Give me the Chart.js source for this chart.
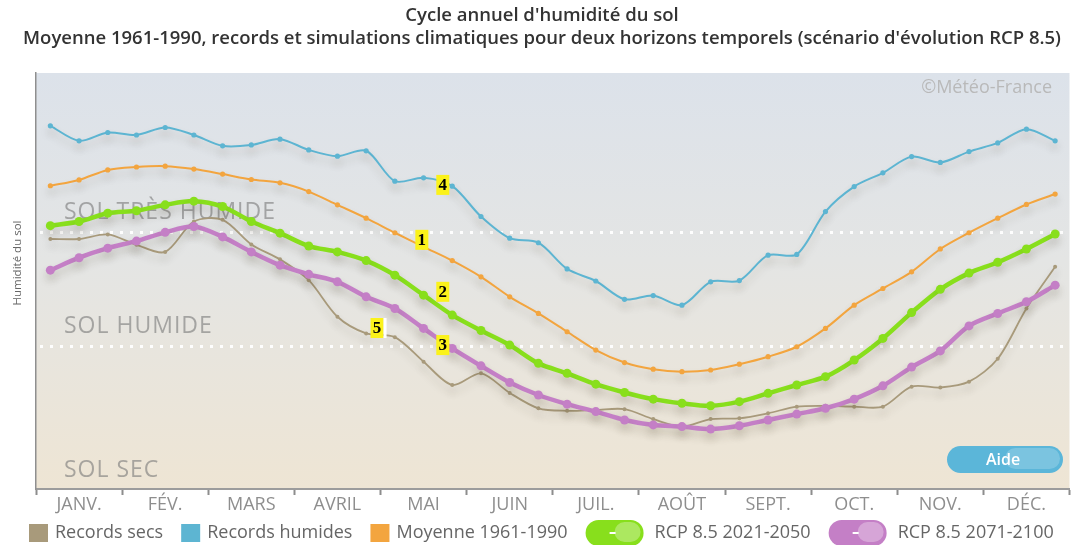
<!DOCTYPE html>
<html>
<head>
<meta charset="utf-8">
<script src="https://cdn.jsdelivr.net/npm/chart.js@4.4.1/dist/chart.umd.min.js"></script>
<style>
  html, body { margin: 0; padding: 0; background: #fff; overflow: hidden; }
  #wrap { width: 1074px; height: 545px; }
</style>
</head>
<body>
<div id="wrap"><canvas id="c" width="1074" height="545"></canvas></div>
<script>
// Months of the year (3 values per month, one per ten-day period)
const months = ['JANV.', 'FÉV.', 'MARS', 'AVRIL', 'MAI', 'JUIN', 'JUIL.', 'AOÛT', 'SEPT.', 'OCT.', 'NOV.', 'DÉC.'];

// Soil humidity index, 36 ten-day periods
const recordsSecs = [60.1, 60.1, 61.2, 58.7, 57.0, 64.3, 64.7, 58.8, 55.2, 50.2, 41.4, 37.4,
                     36.5, 30.6, 25.0, 27.8, 23.1, 19.4, 18.8, 19.0, 19.2, 16.8, 15.0, 16.8,
                     17.0, 18.2, 19.8, 20.0, 19.8, 19.8, 24.6, 24.4, 25.8, 31.3, 43.4, 53.4];
const recordsHumides = [87.3, 83.7, 85.7, 85.1, 86.9, 85.1, 82.5, 82.7, 84.1, 81.5, 80.0, 81.3,
                        74.0, 74.8, 72.8, 65.5, 60.3, 59.2, 52.9, 50.0, 45.6, 46.5, 44.2, 49.8,
                        50.1, 56.2, 56.4, 66.7, 72.7, 76.0, 79.9, 78.5, 81.1, 83.2, 86.5, 83.7];
const moyenne = [72.9, 74.3, 76.7, 77.4, 77.6, 76.9, 75.7, 74.4, 73.6, 71.5, 68.3, 65.1,
                 61.6, 58.2, 54.9, 51.0, 46.2, 42.2, 37.8, 33.4, 30.4, 28.8, 28.2, 28.6,
                 30.0, 31.8, 34.2, 38.6, 44.2, 48.2, 52.2, 57.7, 61.6, 65.1, 68.4, 70.9];
const rcp2021 = [63.3, 64.3, 66.3, 66.9, 68.3, 69.2, 67.9, 64.3, 61.5, 58.4, 57.0, 54.9,
                 51.4, 46.6, 41.8, 38.1, 34.6, 30.2, 27.8, 25.2, 23.2, 21.6, 20.6, 20.0,
                 21.0, 23.0, 25.0, 27.0, 31.0, 36.2, 42.4, 48.0, 51.9, 54.5, 57.7, 61.3];
const rcp2071 = [52.6, 55.6, 57.9, 59.6, 61.7, 63.1, 60.6, 57.0, 53.8, 51.6, 49.8, 46.2,
                 43.4, 38.6, 33.8, 29.6, 25.6, 22.6, 20.4, 18.6, 16.6, 15.4, 15.0, 14.4,
                 15.2, 16.6, 18.0, 19.4, 21.6, 24.8, 29.3, 33.2, 39.2, 42.2, 45.0, 49.0];

// Limits between soil states (very humid / humid / dry)
const thresholds = [61.8, 34.4];
const zoneNames = ['SOL TRÈS HUMIDE', 'SOL HUMIDE', 'SOL SEC'];

// Numbered call-outs (x in ten-day periods, y in index units)
const callouts = [
  { text: '4', x: 14.17, y: 73.1 },
  { text: '1', x: 13.44, y: 59.9 },
  { text: '2', x: 14.17, y: 47.4 },
  { text: '3', x: 14.17, y: 34.6 },
  { text: '5', x: 11.88, y: 38.7, edge: true }
];

const titleText = "Cycle annuel d'humidité du sol";
const subtitleText = "Moyenne 1961-1990, records et simulations climatiques pour deux horizons temporels (scénario d'évolution RCP 8.5)";

const toPoints = vals => vals.map((v, i) => ({ x: i + 0.5, y: v }));

const series = [
  { label: 'Records secs', data: recordsSecs, color: '#a89a7b', width: 1.8, radius: 2, swatch: 'square', order: 5 },
  { label: 'Records humides', data: recordsHumides, color: '#5db5d2', width: 2, radius: 2.6, swatch: 'square', order: 4 },
  { label: 'Moyenne 1961-1990', data: moyenne, color: '#f3a53f', width: 2, radius: 2.6, swatch: 'square', order: 3 },
  { label: 'RCP 8.5 2021-2050', data: rcp2021, color: '#88df1c', width: 4.5, radius: 4.5, swatch: 'pill', order: 2 },
  { label: 'RCP 8.5 2071-2100', data: rcp2071, color: '#c47fc6', width: 4.5, radius: 4.5, swatch: 'pill', order: 1 }
];

function roundRect(ctx, x, y, w, h, r) {
  ctx.beginPath();
  ctx.moveTo(x + r, y);
  ctx.lineTo(x + w - r, y);
  ctx.arc(x + w - r, y + r, r, -Math.PI / 2, 0);
  ctx.lineTo(x + w, y + h - r);
  ctx.arc(x + w - r, y + h - r, r, 0, Math.PI / 2);
  ctx.lineTo(x + r, y + h);
  ctx.arc(x + r, y + h - r, r, Math.PI / 2, Math.PI);
  ctx.lineTo(x, y + r);
  ctx.arc(x + r, y + r, r, Math.PI, Math.PI * 1.5);
  ctx.closePath();
}

function glossyPill(ctx, x, y, w, h, base, light) {
  const r = h / 2;
  ctx.save();
  roundRect(ctx, x, y, w, h, r);
  ctx.fillStyle = base;
  ctx.fill();
  ctx.clip();
  ctx.fillStyle = light;
  roundRect(ctx, x + w * 0.5, y + 2, w * 0.5 - 3, h - 6, (h - 6) / 2);
  ctx.fill();
  ctx.restore();
}

const decor = {
  id: 'decor',
  beforeDraw(chart) {
    const { ctx, chartArea: a } = chart;
    ctx.save();
    ctx.fillStyle = '#ffffff';
    ctx.fillRect(0, 0, chart.width, chart.height);
    const g = ctx.createLinearGradient(0, a.top, 0, a.bottom);
    g.addColorStop(0, '#dce2ea');
    g.addColorStop(0.45, '#e4e5e4');
    g.addColorStop(1, '#eee5d4');
    ctx.fillStyle = g;
    ctx.fillRect(a.left, a.top, a.right - a.left, a.bottom - a.top);
    ctx.restore();
  },
  beforeDatasetsDraw(chart) {
    const { ctx, chartArea: a, scales: { y } } = chart;
    ctx.save();
    // dotted limits between soil states
    ctx.strokeStyle = 'rgba(255,255,255,0.95)';
    ctx.lineWidth = 3;
    ctx.setLineDash([3, 7]);
    thresholds.forEach(t => {
      const py = Math.round(y.getPixelForValue(t)) + 0.5;
      ctx.beginPath();
      ctx.moveTo(a.left + 4, py);
      ctx.lineTo(a.right, py);
      ctx.stroke();
    });
    ctx.setLineDash([]);
    // soil state names, just above each lower limit
    const bounds = [thresholds[0], thresholds[1], y.min];
    ctx.font = '23px "Open Sans"';
    ctx.letterSpacing = '1px';
    ctx.fillStyle = 'rgba(120,120,120,0.6)';
    ctx.textBaseline = 'middle';
    ctx.textAlign = 'left';
    zoneNames.forEach((name, i) => {
      ctx.fillText(name, a.left + 28, y.getPixelForValue(bounds[i]) - 19);
    });
    ctx.restore();
  },
  beforeDatasetDraw(chart) {
    const ctx = chart.ctx;
    ctx.save();
    ctx.shadowColor = 'rgba(60,50,30,0.18)';
    ctx.shadowBlur = 8;
    ctx.shadowOffsetY = 6;
  },
  afterDatasetDraw(chart) {
    chart.ctx.restore();
  },
  afterDatasetsDraw(chart) {
    const { ctx, scales: { x, y } } = chart;
    ctx.save();
    ctx.font = 'bold 17px "Liberation Serif"';
    ctx.textAlign = 'center';
    ctx.textBaseline = 'middle';
    callouts.forEach(c => {
      const px = x.getPixelForValue(c.x);
      const py = y.getPixelForValue(c.y);
      ctx.fillStyle = '#fbf21a';
      ctx.fillRect(px - 6.5, py - 10, 13, 20);
      if (c.edge) {
        ctx.fillStyle = '#ffffff';
        ctx.fillRect(px + 6.5, py - 10, 3, 20);
      }
      ctx.fillStyle = '#000';
      ctx.fillText(c.text, px, py + 1);
    });
    ctx.restore();
  },
  afterDraw(chart) {
    const { ctx, chartArea: a } = chart;
    ctx.save();
    // titles
    ctx.fillStyle = '#333333';
    ctx.textAlign = 'center';
    ctx.textBaseline = 'middle';
    ctx.font = '600 18.5px "Open Sans"';
    ctx.fillText(titleText, 542, 16);
    ctx.fillText(subtitleText, 542, 39);

    // vertical axis title
    ctx.save();
    ctx.translate(18, 263);
    ctx.rotate(-Math.PI / 2);
    ctx.font = '11.5px "Open Sans"';
    ctx.fillStyle = '#666';
    ctx.fillText('Humidité du sol', 0, 0);
    ctx.restore();

    // copyright
    ctx.font = '18px "Open Sans"';
    ctx.fillStyle = '#b9b9b9';
    ctx.textAlign = 'right';
    ctx.fillText('©Météo-France', 1052, 88);

    // help button
    glossyPill(ctx, 947, 446, 116, 27, '#5bb6d9', 'rgba(255,255,255,0.2)');
    ctx.font = '600 16px "Open Sans"';
    ctx.fillStyle = '#ffffff';
    ctx.textAlign = 'center';
    ctx.fillText('Aide', 1003, 460);

    // legend
    let lx = 29;
    const ly = 533;
    ctx.font = '18px "Open Sans"';
    ctx.textAlign = 'left';
    series.forEach(s => {
      if (s.swatch === 'square') {
        ctx.fillStyle = s.color;
        ctx.fillRect(lx, ly - 9, 19, 18);
        lx += 19 + 7;
      } else {
        glossyPill(ctx, lx, ly - 13, 58, 26, s.color, 'rgba(255,255,255,0.3)');
        ctx.fillStyle = '#ffffff';
        ctx.fillRect(lx + 24, ly - 1, 6, 2);
        lx += 58 + 11;
      }
      ctx.fillStyle = '#666';
      ctx.fillText(s.label, lx, ly);
      lx += ctx.measureText(s.label).width + 18;
    });
    ctx.restore();
  }
};

const monthTicks = [];
for (let v = 0; v <= 36; v += 1.5) monthTicks.push({ value: v });

new Chart(document.getElementById('c'), {
  type: 'line',
  data: {
    datasets: series.map(s => ({
      label: s.label,
      data: toPoints(s.data),
      borderColor: s.color,
      backgroundColor: s.color,
      pointBackgroundColor: s.color,
      pointBorderWidth: 0,
      pointRadius: s.radius,
      borderWidth: s.width,
      tension: 0.3,
      order: s.order,
      fill: false
    }))
  },
  options: {
    responsive: false,
    animation: false,
    devicePixelRatio: 1,
    layout: { padding: { top: 73, right: 1, bottom: 0, left: 0 } },
    plugins: { legend: { display: false }, tooltip: { enabled: false }, title: { display: false } },
    scales: {
      x: {
        type: 'linear',
        min: 0,
        max: 36,
        afterBuildTicks: s => { s.ticks = monthTicks.map(t => ({ value: t.value })); },
        afterFit: s => { s.height = 56; },
        grid: {
          drawOnChartArea: false,
          drawTicks: true,
          tickLength: 6,
          tickWidth: 2,
          tickColor: c => (c.tick && c.tick.value % 3 === 0) ? '#8d8d8d' : 'rgba(0,0,0,0)'
        },
        border: { display: true, color: '#9c9c9c', width: 2 },
        ticks: {
          autoSkip: false,
          maxRotation: 0,
          padding: -1,
          color: '#8e8e8e',
          font: { family: '"Open Sans"', size: 18 },
          callback: v => (v % 3 === 1.5) ? months[Math.floor(v / 3)] : ''
        }
      },
      y: {
        min: 0,
        max: 100,
        afterFit: s => { s.width = 36; },
        grid: { display: false },
        border: { display: true, color: '#8f8f8f', width: 1.5 },
        ticks: { display: false }
      }
    }
  },
  plugins: [decor]
});
</script>
</body>
</html>
